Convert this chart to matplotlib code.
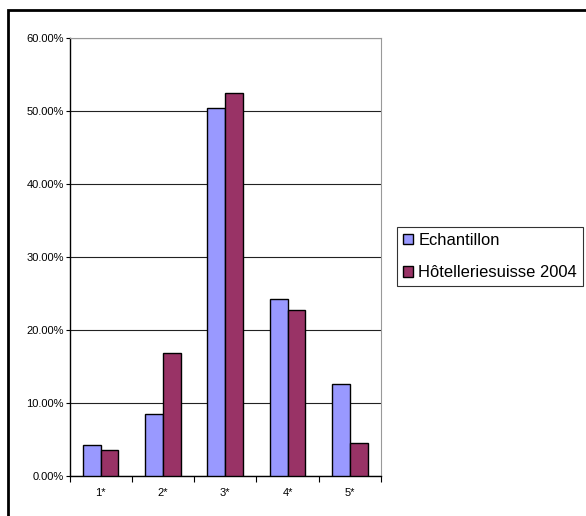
import numpy as np
import matplotlib
matplotlib.use("Agg")
import matplotlib.pyplot as plt
from matplotlib.patches import Rectangle
from matplotlib.ticker import FixedLocator, PercentFormatter

plt.rcParams['font.family'] = ['Liberation Sans', 'DejaVu Sans']

# catégories d'hôtels et parts (%)
categories = ["1*", "2*", "3*", "4*", "5*"]
echantillon = [4.3, 8.5, 50.4, 24.2, 12.55]
hotellerie_2004 = [3.6, 16.8, 52.5, 22.8, 4.5]

fig = plt.figure(figsize=(5.86, 5.16), dpi=100)
ax = fig.add_axes([69.5 / 586, 1 - 476 / 516, (381 - 69.5) / 586, (476 - 38) / 516])

x = np.arange(len(categories))
w = 1 / 3.5
ax.bar(x - w / 2, echantillon, w, color="#9999FF", edgecolor="black",
       linewidth=1, label="Echantillon", zorder=3)
ax.bar(x + w / 2, hotellerie_2004, w, color="#993366", edgecolor="black",
       linewidth=1, label="Hôtelleriesuisse 2004", zorder=3)

ax.set_xlim(-0.5, len(categories) - 0.5)
ax.set_ylim(0, 60)
ax.set_yticks(np.arange(0, 61, 10))
ax.yaxis.set_major_formatter(PercentFormatter(decimals=2))
ax.grid(axis="y", color="#222222", linewidth=0.8, zorder=0)

ax.set_xticks(x)
ax.set_xticklabels(categories)
ax.xaxis.set_minor_locator(FixedLocator(np.arange(-0.5, len(categories), 1.0)))
ax.tick_params(axis="x", which="major", length=0, pad=9, labelsize=8)
ax.tick_params(axis="x", which="minor", length=4, width=0.8, direction="out")
ax.tick_params(axis="y", length=3, width=0.8, pad=1, labelsize=8)

for side in ("top", "right"):
    ax.spines[side].set_color("#999999")
for side in ("left", "bottom"):
    ax.spines[side].set_color("black")
    ax.spines[side].set_linewidth(1)

leg = ax.legend(loc="center left", bbox_to_anchor=(397 / 586, 1 - 256.5 / 516),
                bbox_transform=fig.transFigure, fontsize=11.9, frameon=True,
                fancybox=False, edgecolor="black", handlelength=0.6,
                handleheight=0.6, handletextpad=0.35, borderpad=0.35,
                labelspacing=1.05, borderaxespad=0)
leg.get_frame().set_linewidth(0.8)
for h in leg.legend_handles:
    h.set_linewidth(1)

# cadre du graphique
fig.patches.append(Rectangle((8 / 586, -0.05), 1.2, 1.05 - 10 / 516,
                             transform=fig.transFigure, fill=False,
                             edgecolor="black", linewidth=2))

fig.savefig("out.png", dpi=100)
